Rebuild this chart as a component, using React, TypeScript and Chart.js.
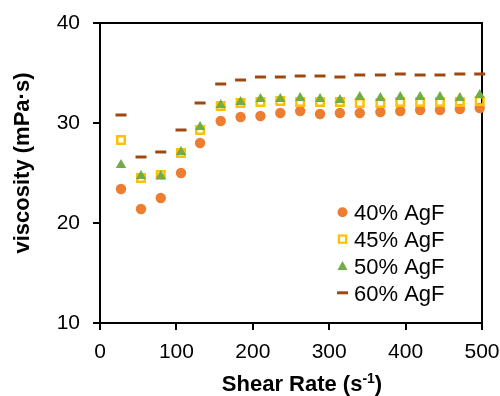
import React, { useEffect, useRef } from "react";
import { Chart, registerables } from "chart.js";

Chart.register(...registerables);

const shearRate = [27.5, 53.7, 79.5, 106, 131, 158, 184, 210, 236, 262, 288, 314, 340, 367, 393, 419, 445, 471, 497];
const agf40 = [23.4, 21.4, 22.5, 25.0, 28.0, 30.2, 30.6, 30.7, 31.0, 31.2, 30.9, 31.0, 31.0, 31.1, 31.2, 31.3, 31.3, 31.4, 31.5];
const agf45 = [28.3, 24.5, 24.8, 27.0, 29.3, 31.7, 32.0, 32.1, 32.2, 32.1, 32.1, 32.1, 32.0, 32.0, 32.1, 32.1, 32.1, 32.1, 32.2];
const agf50 = [25.8, 24.7, 24.7, 27.1, 29.6, 31.8, 32.1, 32.4, 32.4, 32.5, 32.4, 32.3, 32.6, 32.5, 32.6, 32.6, 32.6, 32.5, 32.8];
const agf60 = [30.8, 26.6, 27.1, 29.3, 32.0, 33.9, 34.3, 34.6, 34.6, 34.7, 34.7, 34.6, 34.8, 34.8, 34.9, 34.8, 34.8, 34.9, 34.9];
const seriesLabels = ["40% AgF", "45% AgF", "50% AgF", "60% AgF"];
const xTitle = "Shear Rate (s";
const xTitleSup = "-1";
const xTitleEnd = ")";
const yTitle = "viscosity (mPa·s)";

const ORANGE = "#ED7D31";
const YELLOW = "#FFC000";
const GREEN = "#70AD47";
const BROWN = "#9E480E";
const FONT = '"Liberation Sans", Arial, sans-serif';

const toPts = (ys: number[]) => ys.map((y, i) => ({ x: shearRate[i], y }));

const boxPlugin = {
  id: "boxPlugin",
  beforeDatasetsDraw(chart: any) {
    const { ctx, chartArea: a } = chart;
    ctx.save();
    ctx.strokeStyle = "#000";
    ctx.lineWidth = 2;
    ctx.strokeRect(a.left, a.top, a.right - a.left, a.bottom - a.top);
    ctx.restore();
  },
  afterDraw(chart: any) {
    const { ctx } = chart;
    ctx.save();
    ctx.fillStyle = "#000";
    const mainFont = `bold 22px ${FONT}`;
    const supFont = `bold 14px ${FONT}`;
    ctx.font = mainFont;
    const w1 = ctx.measureText(xTitle).width;
    const w3 = ctx.measureText(xTitleEnd).width;
    ctx.font = supFont;
    const w2 = ctx.measureText(xTitleSup).width;
    const total = w1 + w2 + w3;
    let x = 302 - total / 2;
    const base = 391;
    ctx.textAlign = "left";
    ctx.textBaseline = "alphabetic";
    ctx.font = mainFont;
    ctx.fillText(xTitle, x, base);
    x += w1;
    ctx.font = supFont;
    ctx.fillText(xTitleSup, x, base - 8);
    x += w2;
    ctx.font = mainFont;
    ctx.fillText(xTitleEnd, x, base);
    ctx.save();
    ctx.translate(28.7, 163);
    ctx.rotate(-Math.PI / 2);
    ctx.textAlign = "center";
    ctx.font = mainFont;
    ctx.fillText(yTitle, 0, 0);
    ctx.restore();
    const baselines = [220, 246.8, 273.7, 300.5];
    const mx = 342.5;
    ctx.font = `22px ${FONT}`;
    ctx.textAlign = "left";
    seriesLabels.forEach((lab, i) => {
      const b = baselines[i];
      const cy = b - 7.7;
      ctx.fillStyle = "#000";
      ctx.fillText(lab, 354, b);
      if (i === 0) {
        ctx.fillStyle = ORANGE;
        ctx.beginPath();
        ctx.arc(mx, cy, 5, 0, Math.PI * 2);
        ctx.fill();
      } else if (i === 1) {
        ctx.strokeStyle = YELLOW;
        ctx.lineWidth = 2.2;
        ctx.strokeRect(mx - 3.6, cy - 3.6, 7.2, 7.2);
      } else if (i === 2) {
        ctx.fillStyle = GREEN;
        ctx.beginPath();
        ctx.moveTo(mx, cy - 5);
        ctx.lineTo(mx + 5, cy + 4);
        ctx.lineTo(mx - 5, cy + 4);
        ctx.closePath();
        ctx.fill();
      } else {
        ctx.strokeStyle = BROWN;
        ctx.lineWidth = 3;
        ctx.beginPath();
        ctx.moveTo(mx - 5.5, cy);
        ctx.lineTo(mx + 5.5, cy);
        ctx.stroke();
      }
    });
    ctx.restore();
  },
};

export default function App() {
  const ref = useRef<HTMLCanvasElement | null>(null);
  useEffect(() => {
    if (!ref.current) return;
    const chart = new Chart(ref.current, {
      type: "scatter",
      data: {
        datasets: [
          {
            label: seriesLabels[0],
            data: toPts(agf40),
            pointStyle: "circle",
            pointRadius: 5.2,
            backgroundColor: ORANGE,
            borderColor: ORANGE,
            borderWidth: 0,
            order: 4,
            clip: false,
          },
          {
            label: seriesLabels[1],
            data: toPts(agf45),
            pointStyle: "rect",
            pointRadius: 5.3,
            backgroundColor: "rgba(0,0,0,0)",
            borderColor: YELLOW,
            borderWidth: 2.5,
            order: 3,
            clip: false,
          },
          {
            label: seriesLabels[2],
            data: toPts(agf50),
            pointStyle: "triangle",
            pointRadius: 6,
            backgroundColor: GREEN,
            borderColor: GREEN,
            borderWidth: 0,
            order: 2,
            clip: false,
          },
          {
            label: seriesLabels[3],
            data: toPts(agf60),
            pointStyle: "line",
            pointRadius: 5.5,
            backgroundColor: BROWN,
            borderColor: BROWN,
            borderWidth: 3,
            order: 1,
            clip: false,
          },
        ] as any,
      },
      options: {
        animation: false,
        responsive: false,
        devicePixelRatio: 1,
        layout: { padding: { top: 23, right: 18, left: 0, bottom: 0 } },
        plugins: {
          legend: { display: false },
          tooltip: { enabled: false },
        },
        scales: {
          x: {
            type: "linear",
            min: 0,
            max: 500,
            afterFit: (s: any) => {
              s.height = 73;
              s.paddingLeft = 0;
              s.paddingRight = 0;
            },
            ticks: {
              stepSize: 100,
              color: "#000",
              padding: 10,
              maxRotation: 0,
              font: { family: FONT, size: 21 },
            },
            grid: {
              drawOnChartArea: false,
              drawTicks: true,
              tickLength: 7,
              color: "#000",
              lineWidth: 2,
            },
            border: { display: false },
          },
          y: {
            type: "linear",
            min: 10,
            max: 40,
            afterFit: (s: any) => {
              s.width = 100;
              s.paddingTop = 0;
              s.paddingBottom = 0;
            },
            ticks: {
              stepSize: 10,
              color: "#000",
              padding: 13,
              font: { family: FONT, size: 21 },
            },
            grid: {
              drawOnChartArea: false,
              drawTicks: true,
              tickLength: 7,
              color: "#000",
              lineWidth: 2,
            },
            border: { display: false },
          },
        },
      } as any,
      plugins: [boxPlugin],
    });
    return () => chart.destroy();
  }, []);
  return (
    <div style={{ position: "absolute", left: 0, top: 0, width: 500, height: 396, background: "#fff" }}>
      <canvas ref={ref} width={500} height={396} style={{ display: "block" }} />
    </div>
  );
}
